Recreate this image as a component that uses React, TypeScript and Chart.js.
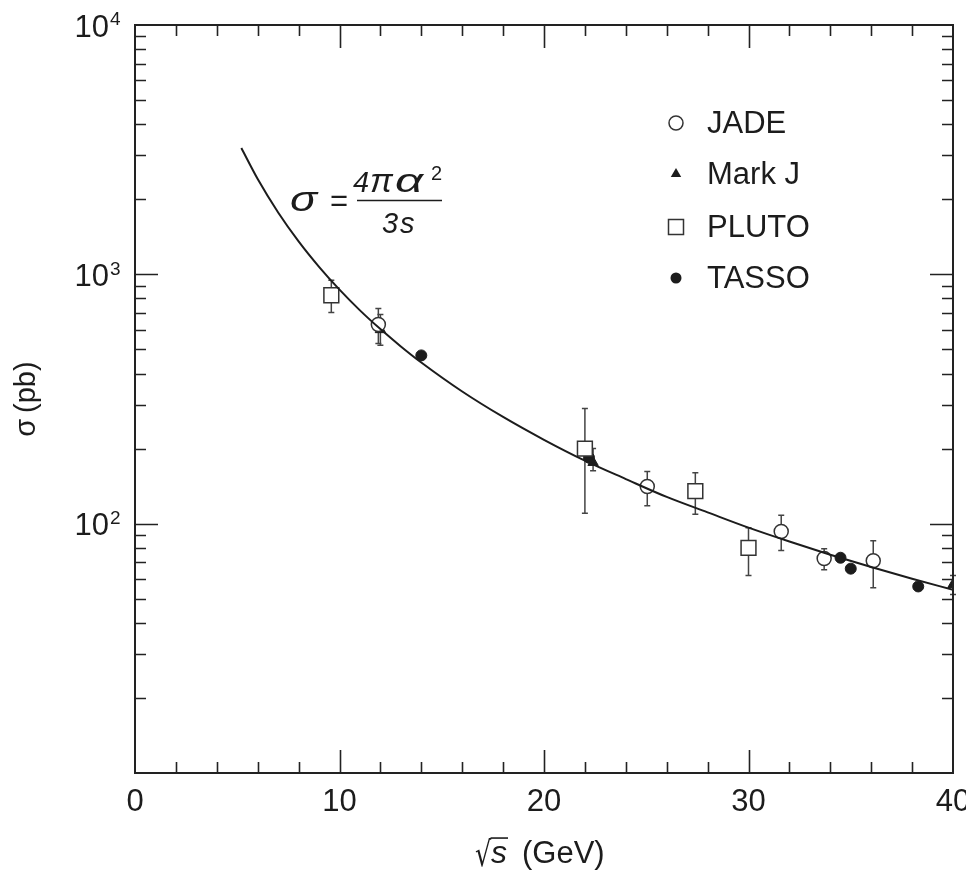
import React, { useEffect, useRef } from "react";
import { Chart, registerables } from "chart.js";

Chart.register(...registerables);

// Theoretical curve sigma = 4*pi*alpha^2 / 3s (pb)
const curveX = [5.2, 6, 7, 8, 9, 10, 11, 12, 13, 14, 16, 18, 20, 22, 24, 26, 28, 30, 32, 34, 36, 38, 40];
const curveY = [3210, 2411, 1771, 1356, 1072, 868, 717, 603, 514, 443, 339, 268, 217, 179, 151, 128, 111, 96.4, 84.8, 75.1, 67.0, 60.1, 54.3];

// JADE (open circles)
const jadeX = [11.9, 25.05, 31.6, 33.7, 36.1];
const jadeY = [629, 141, 93, 72.5, 71];
const jadeHi = [730, 162, 108, 79.4, 85.5];
const jadeLo = [528, 118, 78, 65.3, 55.3];

// Mark J (filled triangles)
const markJX = [12.0, 22.4, 40];
const markJY = [600, 176, 57];
const markJHi = [690, 200, 62];
const markJLo = [520, 163, 52];

// PLUTO (open squares)
const plutoX = [9.6, 22.0, 27.4, 30.0];
const plutoY = [824, 200, 135, 80];
const plutoHi = [946, 290, 160, 96.4];
const plutoLo = [703, 110, 109, 62];

// TASSO (filled circles)
const tassoX = [14.0, 22.2, 34.5, 35.0, 38.3];
const tassoY = [473, 184, 73, 66, 56];

const xTickValues = [0, 10, 20, 30, 40];
const yDecadeLabels = [10000, 1000, 100];
const legendLabels = ["JADE", "Mark J", "PLUTO", "TASSO"];

const FONT = '"Liberation Sans", Arial, Helvetica, sans-serif';
const GREEK = '"Liberation Sans", Arial, sans-serif';
const INK = "#1c1c1c";
const MARK = "#333333";

const pts = (xs: number[], ys: number[]) => xs.map((x, i) => ({ x, y: ys[i] }));

const errorSets = [
  { x: jadeX, hi: jadeHi, lo: jadeLo },
  { x: markJX, hi: markJHi, lo: markJLo },
  { x: plutoX, hi: plutoHi, lo: plutoLo },
];

function drawMarker(ctx: CanvasRenderingContext2D, kind: string, x: number, y: number) {
  ctx.save();
  ctx.lineWidth = 1.5;
  ctx.strokeStyle = MARK;
  ctx.fillStyle = INK;
  ctx.beginPath();
  if (kind === "JADE") {
    ctx.arc(x, y, 7, 0, Math.PI * 2);
    ctx.fillStyle = "#fff";
    ctx.fill();
    ctx.stroke();
  } else if (kind === "Mark J") {
    const r = 6;
    ctx.moveTo(x, y - r);
    ctx.lineTo(x + r * 0.87, y + r * 0.5);
    ctx.lineTo(x - r * 0.87, y + r * 0.5);
    ctx.closePath();
    ctx.fill();
  } else if (kind === "PLUTO") {
    ctx.rect(x - 7.5, y - 7.5, 15, 15);
    ctx.fillStyle = "#fff";
    ctx.fill();
    ctx.stroke();
  } else {
    ctx.arc(x, y, 5.5, 0, Math.PI * 2);
    ctx.fill();
  }
  ctx.restore();
}

function drawScaled(ctx: CanvasRenderingContext2D, txt: string, x: number, y: number, sx: number, sy = 1) {
  ctx.save();
  ctx.translate(x, y);
  ctx.scale(sx, sy);
  ctx.fillText(txt, 0, 0);
  ctx.restore();
}

const deco = {
  id: "deco",
  beforeDatasetsDraw(chart: any) {
    const { ctx, scales } = chart;
    const xs = scales.x;
    const ys = scales.y;
    ctx.save();
    ctx.strokeStyle = "#444";
    ctx.lineWidth = 1.5;
    for (const e of errorSets) {
      e.x.forEach((xv: number, i: number) => {
        const px = xs.getPixelForValue(xv);
        const hi = ys.getPixelForValue(e.hi[i]);
        const lo = ys.getPixelForValue(e.lo[i]);
        ctx.beginPath();
        ctx.moveTo(px, hi);
        ctx.lineTo(px, lo);
        ctx.moveTo(px - 3, hi);
        ctx.lineTo(px + 3, hi);
        ctx.moveTo(px - 3, lo);
        ctx.lineTo(px + 3, lo);
        ctx.stroke();
      });
    }
    ctx.restore();
  },
  afterDatasetsDraw(chart: any) {
    const { ctx, chartArea, scales } = chart;
    const xs = scales.x;
    const ys = scales.y;
    const { left, right, top, bottom } = chartArea;
    ctx.save();
    // frame
    ctx.strokeStyle = "#222";
    ctx.lineWidth = 2;
    ctx.strokeRect(left, top, right - left, bottom - top);
    // x ticks (bottom & top), every 2 units
    ctx.lineWidth = 1.6;
    ctx.beginPath();
    for (let v = 2; v < 40; v += 2) {
      const px = Math.round(xs.getPixelForValue(v)) + 0.5;
      const len = v % 10 === 0 ? 23 : 11;
      ctx.moveTo(px, bottom);
      ctx.lineTo(px, bottom - len);
      ctx.moveTo(px, top);
      ctx.lineTo(px, top + len);
    }
    // y ticks (left & right), log minor
    for (let d = 10; d < 10000; d *= 10) {
      for (let m = 1; m < 10; m++) {
        const v = d * m;
        if (v <= 10) continue;
        const py = Math.round(ys.getPixelForValue(v)) + 0.5;
        const len = m === 1 ? 23 : 11;
        ctx.moveTo(left, py);
        ctx.lineTo(left + len, py);
        ctx.moveTo(right, py);
        ctx.lineTo(right - len, py);
      }
    }
    ctx.stroke();

    // y decade labels 10^n
    ctx.fillStyle = INK;
    for (const v of yDecadeLabels) {
      const py = ys.getPixelForValue(v);
      const exp = String(Math.round(Math.log10(v)));
      ctx.font = `31px ${FONT}`;
      ctx.textAlign = "right";
      ctx.textBaseline = "middle";
      ctx.fillText("10", 109, py + 3);
      ctx.font = `19px ${FONT}`;
      ctx.textAlign = "left";
      ctx.fillText(exp, 110, py - 5);
    }

    // y title
    ctx.save();
    ctx.translate(27, 399);
    ctx.rotate(-Math.PI / 2);
    ctx.font = `29px ${FONT}`;
    ctx.textAlign = "center";
    ctx.textBaseline = "middle";
    ctx.fillText("σ\u2009(pb)", 0, 0);
    ctx.restore();

    // x title: sqrt(s) (GeV)
    {
      const base = 863;
      ctx.textAlign = "left";
      ctx.textBaseline = "alphabetic";
      ctx.font = `30px "DejaVu Sans", ${FONT}`;
      const mr = ctx.measureText("√");
      const sy = 1.15;
      drawScaled(ctx, "√", 475, base + 3, 0.85, sy);
      const topY = base + 3 - mr.actualBoundingBoxAscent * sy;
      const rx = 475 + mr.actualBoundingBoxRight * 0.85;
      ctx.font = `italic 32px ${FONT}`;
      const sx = 491;
      const ws = ctx.measureText("s").width;
      ctx.fillText("s", sx, base);
      ctx.strokeStyle = INK;
      ctx.lineWidth = 1.6;
      ctx.beginPath();
      ctx.moveTo(rx - 1.5, topY + 0.8);
      ctx.lineTo(sx + ws + 1, topY + 0.8);
      ctx.stroke();
      ctx.font = `31px ${FONT}`;
      ctx.fillText("(GeV)", 522, base);
    }

    // formula sigma = 4 pi alpha^2 / 3s
    {
      ctx.textAlign = "left";
      ctx.textBaseline = "alphabetic";
      ctx.font = `italic 36px ${GREEK}`;
      drawScaled(ctx, "σ", 290, 211, 1.25);
      ctx.font = `31px ${FONT}`;
      ctx.fillText("=", 330, 211);
      ctx.font = `italic 29px ${FONT}`;
      ctx.fillText("4", 353, 192);
      ctx.font = `italic 34px ${GREEK}`;
      drawScaled(ctx, "π", 370, 192, 1.0);
      drawScaled(ctx, "α", 395, 192, 1.45);
      ctx.font = `20px ${FONT}`;
      ctx.fillText("2", 431, 180);
      ctx.strokeStyle = INK;
      ctx.lineWidth = 1.6;
      ctx.beginPath();
      ctx.moveTo(357, 200.5);
      ctx.lineTo(442, 200.5);
      ctx.stroke();
      ctx.font = `italic 29px ${FONT}`;
      ctx.fillText("3", 382, 233);
      ctx.fillText("s", 400, 233);
    }

    // legend
    const rows = [123, 174, 227, 278];
    legendLabels.forEach((lab, i) => {
      drawMarker(ctx, lab, 676, rows[i]);
      ctx.fillStyle = INK;
      ctx.font = `31px ${FONT}`;
      ctx.textAlign = "left";
      ctx.textBaseline = "middle";
      ctx.fillText(lab, 707, rows[i] + 1);
    });
    ctx.restore();
  },
};

export default function App() {
  const ref = useRef<HTMLCanvasElement>(null);
  useEffect(() => {
    if (!ref.current) return;
    const chart = new Chart(ref.current, {
      type: "scatter",
      data: {
        datasets: [
          {
            label: "curve",
            data: pts(curveX, curveY),
            showLine: true,
            borderColor: INK,
            borderWidth: 2,
            pointRadius: 0,
            cubicInterpolationMode: "monotone",
            fill: false,
          } as any,
          {
            label: "JADE",
            data: pts(jadeX, jadeY),
            pointStyle: "circle",
            pointRadius: 7,
            backgroundColor: "#fff",
            borderColor: MARK,
            borderWidth: 1.5,
          },
          {
            label: "Mark J",
            data: pts(markJX, markJY),
            pointStyle: "triangle",
            pointRadius: 6,
            backgroundColor: INK,
            borderColor: INK,
            borderWidth: 1,
          },
          {
            label: "PLUTO",
            data: pts(plutoX, plutoY),
            pointStyle: "rect",
            pointRadius: 10.5,
            backgroundColor: "#fff",
            borderColor: MARK,
            borderWidth: 1.5,
          },
          {
            label: "TASSO",
            data: pts(tassoX, tassoY),
            pointStyle: "circle",
            pointRadius: 5.5,
            backgroundColor: INK,
            borderColor: INK,
            borderWidth: 1,
          },
        ],
      },
      options: {
        responsive: false,
        animation: false,
        devicePixelRatio: 1,
        layout: { padding: { top: 25, right: 13, left: 0, bottom: 0 } },
        plugins: { legend: { display: false }, tooltip: { enabled: false } },
        scales: {
          x: {
            type: "linear",
            min: 0,
            max: 40,
            grid: { display: false, drawTicks: false },
            border: { display: false },
            afterBuildTicks: (s: any) => {
              s.ticks = xTickValues.map((v) => ({ value: v }));
            },
            ticks: {
              font: { family: FONT, size: 31 },
              color: INK,
              padding: 11,
              maxRotation: 0,
              autoSkip: false,
            },
            afterFit: (s: any) => {
              s.height = 100;
              s.paddingLeft = 0;
              s.paddingRight = 0;
            },
          },
          y: {
            type: "logarithmic",
            min: 10,
            max: 10000,
            grid: { display: false, drawTicks: false },
            border: { display: false },
            ticks: { display: false },
            afterFit: (s: any) => {
              s.width = 135;
              s.paddingTop = 0;
              s.paddingBottom = 0;
            },
          },
        },
      } as any,
      plugins: [deco],
    });
    return () => chart.destroy();
  }, []);
  return (
    <div style={{ position: "fixed", left: 0, top: 0, width: 966, height: 873, background: "#fff" }}>
      <canvas ref={ref} width={966} height={873} style={{ display: "block" }} />
    </div>
  );
}
